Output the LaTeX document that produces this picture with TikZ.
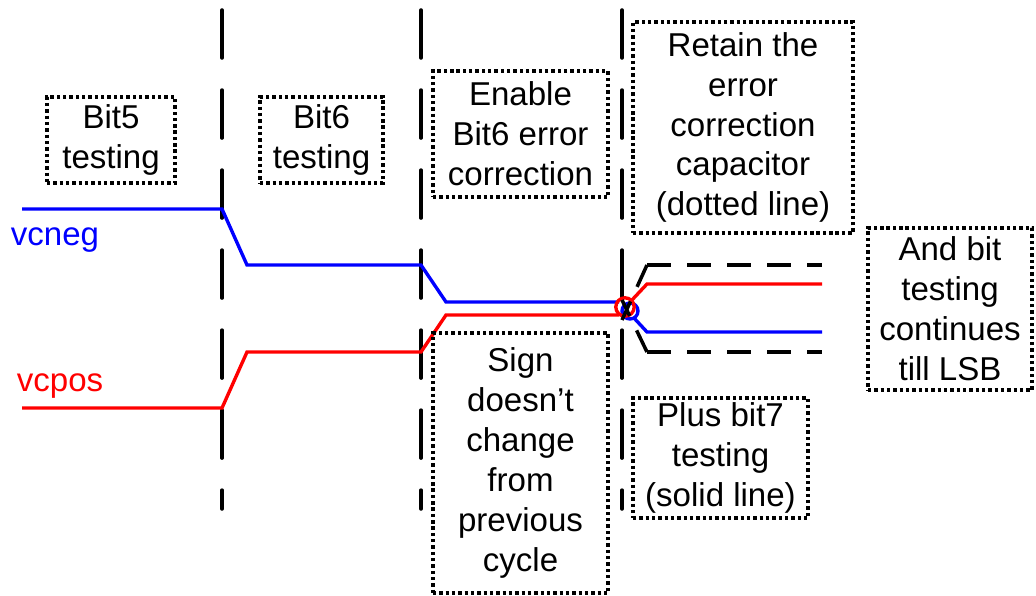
\documentclass[tikz,border=0pt]{standalone}
\usepackage{fontspec}
\setmainfont{Liberation Sans}
\usetikzlibrary{positioning}

\begin{document}
\begin{tikzpicture}[
    x=0.025cm, y=-0.025cm,
    note/.style={draw, line width=2.4pt, dash pattern=on 2.4pt off 2.1pt, align=center, inner sep=0pt, font=\fontsize{23.5}{28.4}\selectfont},
    phase/.style={line width=2.5pt, line cap=round, dash pattern=on 1.2cm off 0.8cm},
    sig/.style={line width=2.4pt},
    keep/.style={line width=2.5pt, dash pattern=on 0.6cm off 0.4cm}
]
\useasboundingbox (0,0) rectangle (1036,596);

% phase boundaries
\foreach \x in {222,421,622} \draw[phase] (\x,10) -- (\x,509);

% comparator inputs
\draw[sig, blue] (22,209) -- (222,209) -- (247,265) -- (421,265) -- (446,302) -- (619,302);
\draw[sig, red] (22,408) -- (222,408) -- (247,352) -- (421,352) -- (446,315) -- (619,315);
\draw[sig, blue] (630,311) circle [radius=0.2cm];
\draw[sig, red] (625,307) circle [radius=0.23cm];
\draw[sig, red] (632,300) -- (647,284) -- (822,284);
\draw[sig, blue] (634,318) -- (647,332) -- (822,332);

% retained capacitor (dotted line)
\draw[keep] (647,265) -- (622,320);
\draw[keep] (647,265) -- (822,265);
\draw[keep] (647,352) -- (622,300);
\draw[keep] (647,352) -- (822,352);

% signal names
\node[blue, font=\fontsize{23.5}{28.4}\selectfont] (vcneg) at (55,240) {vcneg};
\node[red, font=\fontsize{23.5}{28.4}\selectfont] (vcpos) at (60,386) {vcpos};

% notes
\node[note, minimum width=3.2cm, minimum height=2.15cm] (bit5) at (111,140) {Bit5\\testing};
\node[note, minimum width=3.075cm, minimum height=2.15cm] (bit6) at (321.5,140) {Bit6\\testing};
\node[note, minimum width=4.375cm, minimum height=3.15cm] (enable) at (520.5,134) {Enable\\Bit6 error\\correction};
\node[note, minimum width=5.5cm, minimum height=5.275cm] (retain) at (743,127.5) {Retain the\\error\\correction\\capacitor\\(dotted line)};
\node[note, minimum width=4.375cm, minimum height=6.5cm] (sign) at (520.5,463) {Sign\\doesn't\\change\\from\\previous\\cycle};
\node[note, minimum width=4.375cm, minimum height=3cm] (bit7) at (720.5,458) {Plus bit7\\testing\\(solid line)};
\node[note, minimum width=4.1cm, minimum height=4.05cm] (lsb) at (950,309) {And bit\\testing\\continues\\till LSB};
\end{tikzpicture}
\end{document}
